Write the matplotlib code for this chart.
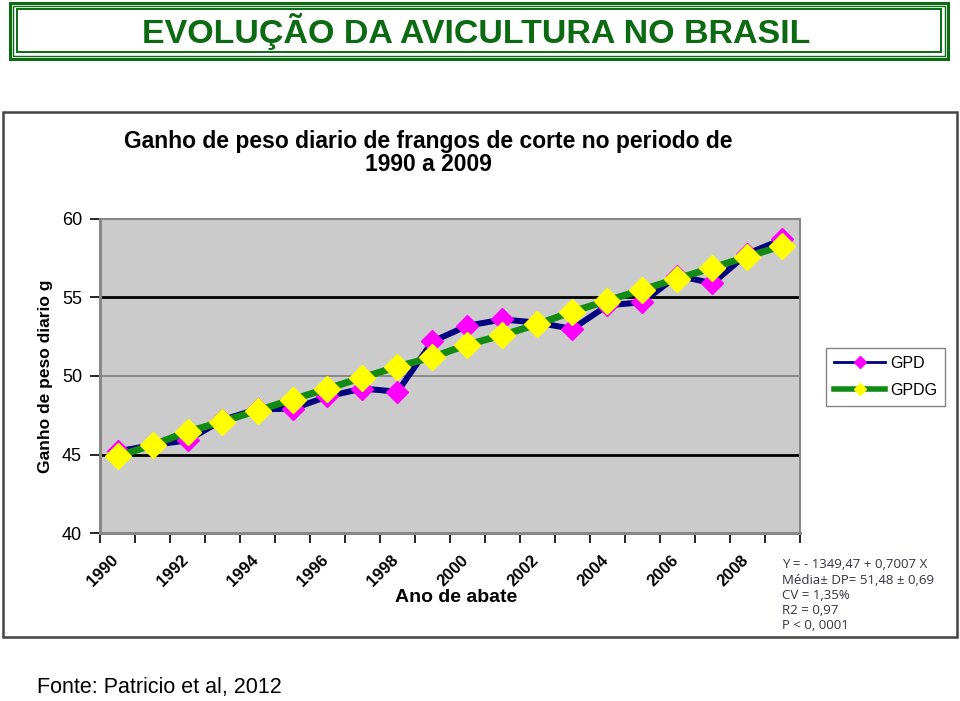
import matplotlib
matplotlib.use("Agg")
import matplotlib.pyplot as plt
from matplotlib.lines import Line2D
from matplotlib.patches import Rectangle
from matplotlib.transforms import ScaledTranslation
from matplotlib import font_manager

W, H = 960, 701

years = list(range(1990, 2010))
gpd = [45.2, 45.6, 45.9, 47.2, 47.9, 47.9, 48.7, 49.2, 49.0, 52.2,
       53.2, 53.6, 53.4, 53.0, 54.5, 54.7, 56.4, 55.9, 57.8, 58.7]
gpdg = [44.9, 45.6, 46.45, 47.1, 47.8, 48.5, 49.2, 49.9, 50.6, 51.2,
        52.0, 52.6, 53.3, 54.1, 54.8, 55.5, 56.2, 56.9, 57.6, 58.3]
tick_labels = ["1990", "1992", "1994", "1996", "1998", "2000", "2002",
               "2004", "2006", "2008"]
y_ticks = [40, 45, 50, 55, 60]
series_names = ["GPD", "GPDG"]
stats_lines = ["Y = - 1349,47 + 0,7007 X",
               "Média\u00b1 DP= 51,48 \u00b1 0,69",
               "CV = 1,35%",
               "R2 = 0,97",
               "P < 0, 0001"]
banner_title = "EVOLUÇÃO DA AVICULTURA NO BRASIL"
chart_title = "Ganho de peso diario de frangos de corte no periodo de\n1990 a 2009"
y_label = "Ganho de peso diario g"
x_label = "Ano de abate"
source = "Fonte: Patricio et al, 2012"

names = {f.name for f in font_manager.fontManager.ttflist}
narrow = "Liberation Sans Narrow" if "Liberation Sans Narrow" in names else "Liberation Sans"

def fx(x):
    return x / W

def fy(y):
    return 1 - y / H

fig = plt.figure(figsize=(W / 100, H / 100), dpi=100)
fig.patch.set_facecolor("white")

green = "#0b6a12"
# banner: triple border
for (x0, y0, x1, y1, lw) in [(9.5, 3, 948, 58.5, 2.2), (12.5, 5.8, 945, 55.5, 1.0), (16.5, 9, 941, 51.5, 1.4)]:
    fig.add_artist(Rectangle((fx(x0), fy(y1)), fx(x1 - x0), (y1 - y0) / H,
                             fill=False, edgecolor=green, lw=lw, transform=fig.transFigure))
fig.text(fx(476), fy(31), banner_title, ha="center", va="center", color=green,
         fontsize=24.5, fontweight="bold", family=[narrow, "DejaVu Sans"])

# chart image border
fig.add_artist(Rectangle((fx(3), fy(637)), fx(954), (637 - 112) / H, fill=False,
                         edgecolor="#444444", lw=1.8, transform=fig.transFigure))

fig.text(fx(428), fy(153), chart_title, ha="center", va="center", fontsize=16.5,
         fontweight="bold", family="Liberation Sans", linespacing=0.95)

ax = fig.add_axes([fx(100), fy(533), fx(700), 314 / H])
ax.set_facecolor("#cbcbcb")
x = list(range(len(years)))
ax.plot(x, gpd, color="#000080", lw=4.3, marker="D", ms=11, mfc="#ff00ff",
        mec="#ff00ff", zorder=3)
ax.plot(x, gpdg, color="#138a13", lw=5.0, marker="D", ms=13, mfc="#ffff00",
        mec="#ffff00", zorder=4)
ax.set_xlim(-0.5, len(years) - 0.5)
ax.set_ylim(40, 60)
for v in y_ticks[1:-1]:
    if v == 50:
        ax.axhline(v, color="#8a8a8a", lw=1.4, zorder=1)
    else:
        ax.axhline(v, color="black", lw=2.0, zorder=1)
ax.set_yticks(y_ticks)
ax.set_yticklabels([str(v) for v in y_ticks], fontsize=13, family="Liberation Sans")
ax.tick_params(axis="y", length=7, width=1.2, direction="out", pad=6)
ax.set_xticks([i - 0.5 for i in range(len(years) + 1)])
ax.set_xticklabels([])
ax.tick_params(axis="x", which="major", length=7, width=1.2, direction="out")
ax.set_xticks(x[::2], minor=True)
ax.set_xticklabels(tick_labels, minor=True, rotation=45, ha="right",
                   rotation_mode="anchor", fontsize=12, fontweight="bold",
                   family="Liberation Sans")
ax.tick_params(axis="x", which="minor", length=0, pad=14)
shift = ScaledTranslation(-7 / 100, 0, fig.dpi_scale_trans)
for lab in ax.get_xticklabels(minor=True):
    lab.set_transform(lab.get_transform() + shift)
for s in ax.spines.values():
    s.set_color("#888888")
    s.set_linewidth(1.5)
ax.spines["left"].set_linewidth(2.2)
ax.spines["bottom"].set_linewidth(2.2)

fig.text(fx(456), fy(598), x_label, ha="center", va="center", fontsize=14,
         fontweight="bold", family="Liberation Sans")
fig.text(fx(46), fy(376), y_label, ha="center", va="center", rotation=90,
         fontsize=12.5, fontweight="bold", family="Liberation Sans")

handles = [Line2D([], [], color="#000080", lw=2, marker="D", ms=6, mfc="#ff00ff", mec="#ff00ff"),
           Line2D([], [], color="#138a13", lw=4, marker="D", ms=6, mfc="#ffff00", mec="#ffff00")]
leg = fig.legend(handles, series_names, loc="upper left",
                 bbox_to_anchor=(fx(826), fy(348)), borderaxespad=0,
                 frameon=True, fancybox=False,
                 edgecolor="#666666", handlelength=3.2,
                 borderpad=0.5, labelspacing=0.75, handletextpad=0.3,
                 prop={"family": "Liberation Sans", "size": 11.5})
leg.get_frame().set_linewidth(1.0)

for i, line in enumerate(stats_lines):
    fig.text(fx(782), fy(565 + i * 15.2), line, ha="left", va="center",
             fontsize=9.5, color="#333344", family="Open Sans")

fig.text(fx(37), fy(687), source, ha="left", va="center", fontsize=15.5,
         family="Liberation Sans")

fig.savefig("out.png", dpi=100)
